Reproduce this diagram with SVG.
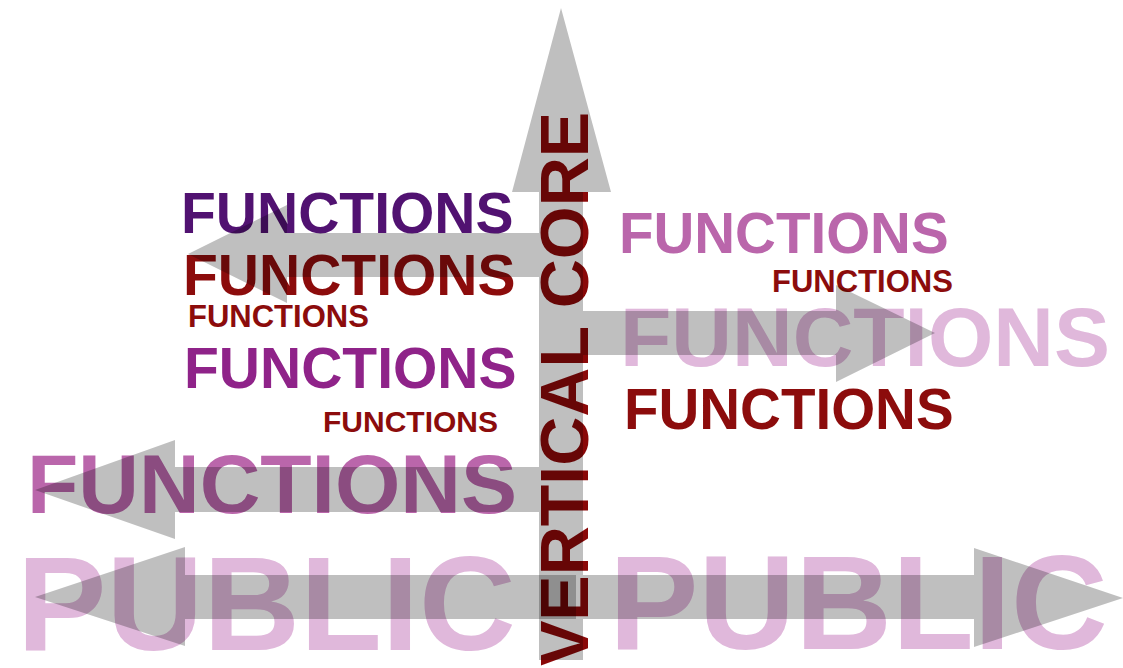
<svg xmlns="http://www.w3.org/2000/svg" width="1123" height="668" viewBox="0 0 1123 668">
<style>
text{font-family:"Liberation Sans",Arial,sans-serif;font-weight:bold}
.dp{fill:#511271}
.dr{fill:#8c0c0c}
.mg{fill:#8f2389}
.pk{fill:#ba66ab}
.lp{fill:#e0b8db}
.vc{fill:#8a0808}
.arr{fill:#000;fill-opacity:0.25;stroke:none}
</style>
<rect width="1123" height="668" fill="#fff"/>
<g id="public-left"><text class="lp" x="17" y="650" font-size="134">PUBLIC</text></g>
<g id="public-right"><text class="lp" x="609" y="649" font-size="134">PUBLIC</text></g>
<g id="fn-left-1"><text class="dp" x="181" y="233" font-size="57">FUNCTIONS</text></g>
<g id="fn-left-2"><text class="dr" x="183" y="295" font-size="57">FUNCTIONS</text></g>
<g id="fn-left-3"><text class="dr" x="188" y="327" font-size="31">FUNCTIONS</text></g>
<g id="fn-left-4"><text class="mg" x="184" y="388" font-size="57">FUNCTIONS</text></g>
<g id="fn-left-5"><text class="dr" x="323" y="432" font-size="30">FUNCTIONS</text></g>
<g id="fn-left-6"><text class="pk" x="27" y="513" font-size="84">FUNCTIONS</text></g>
<g id="fn-right-1"><text class="pk" x="619" y="253" font-size="56.5">FUNCTIONS</text></g>
<g id="fn-right-2"><text class="dr" x="772" y="292" font-size="31">FUNCTIONS</text></g>
<g id="fn-right-3"><text class="lp" x="620" y="366" font-size="84">FUNCTIONS</text></g>
<g id="fn-right-4"><text class="dr" x="624" y="429" font-size="56.5">FUNCTIONS</text></g>
<g id="vertical-core"><text class="vc" transform="translate(588,666) rotate(-90)" font-size="68">VERTICAL CORE</text></g>
<g id="connectors">
<polygon id="arrow-up" class="arr" points="539,660 539,192 512,192 561,8 611,192 583,192 583,660"/>
<polygon id="arrow-left-top" class="arr" points="539,233 287,233 287,205 188,254 287,303 287,277 539,277"/>
<polygon id="arrow-right-mid" class="arr" points="583,311 836,311 836,285 935,333 836,382 836,355 583,355"/>
<polygon id="arrow-left-low" class="arr" points="539,467 175,467 175,440 35,490 175,539 175,512 539,512"/>
<polygon id="arrow-public-left" class="arr" points="576,575 185,575 185,547 35,597 185,646 185,619 576,619"/>
<polygon id="arrow-public-right" class="arr" points="583,575 974,575 974,548 1123,598 974,647 974,619 583,619"/>
</g>
</svg>
